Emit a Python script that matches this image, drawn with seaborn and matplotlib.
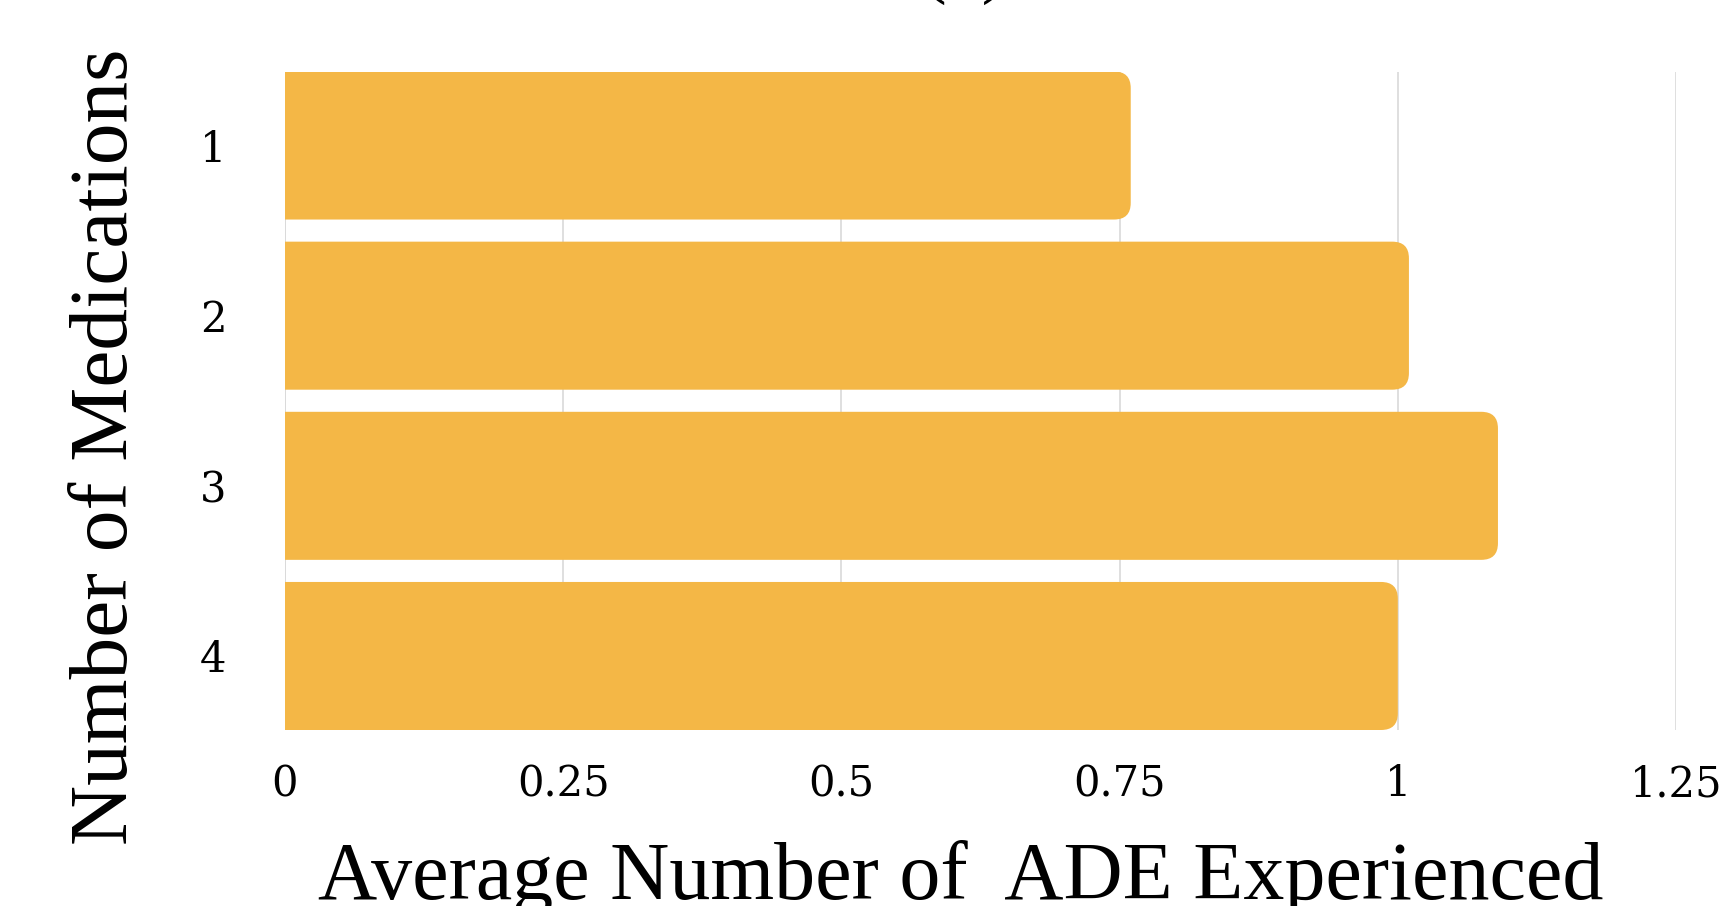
import matplotlib
matplotlib.use("Agg")
import matplotlib.pyplot as plt
from matplotlib.patches import FancyBboxPatch
import seaborn as sns
import pandas as pd

# data
medications = ["1", "2", "3", "4"]
avg_ade = [0.76, 1.01, 1.09, 1.00]
x_ticks = [0, 0.25, 0.5, 0.75, 1, 1.25]
x_tick_labels = ["0", "0.25", "0.5", "0.75", "1", "1.25"]

df = pd.DataFrame({"Number of Medications": medications, "Average ADE": avg_ade})

sns.set_theme(style="white")
plt.rcParams["font.family"] = ["Liberation Serif", "DejaVu Serif"]
plt.rcParams["text.color"] = "black"
plt.rcParams["axes.labelcolor"] = "black"
plt.rcParams["xtick.color"] = "black"
plt.rcParams["ytick.color"] = "black"

bar_color = "#F4B746"
fig = plt.figure(figsize=(17.23, 9.06), dpi=100)
ax = fig.add_axes([285 / 1723, 1 - 730 / 906, (1676 - 285) / 1723, (730 - 71.5) / 906])

bw = 0.87
sns.barplot(data=df, x="Average ADE", y="Number of Medications", orient="h",
            color=bar_color, width=bw, saturation=1, ax=ax, zorder=2)

# swap plain rectangles for ones with rounded right ends
for p in list(ax.patches):
    x0, y0, w, h = p.get_x(), p.get_y(), p.get_width(), p.get_height()
    p.remove()
    rb = FancyBboxPatch((x0 - 0.05, y0), w + 0.05, h,
                        boxstyle="round,pad=0,rounding_size=0.015",
                        mutation_aspect=6.5, facecolor=bar_color,
                        edgecolor="none", zorder=2)
    ax.add_patch(rb)

ax.set_xlim(0, 1.25)
ax.set_ylim(3 + bw / 2, -bw / 2)
ax.set_xticks(x_ticks)
ax.set_xticklabels(x_tick_labels)
ax.grid(axis="x", color="#d9d9d9", linewidth=1.2, zorder=0)
ax.grid(axis="y", visible=False)
ax.axvline(0, color="#d9d9d9", linewidth=1.2, zorder=0)
ax.set_axisbelow(True)
for s in ax.spines.values():
    s.set_visible(False)

ax.tick_params(axis="x", length=0, pad=24)
ax.tick_params(axis="y", length=0, pad=42)
for lbl in ax.get_xticklabels() + ax.get_yticklabels():
    lbl.set_fontfamily("DejaVu Serif")
    lbl.set_fontsize(30)

ax.set_xlabel("Average Number of  ADE Experienced", fontsize=59)
ax.xaxis.label.set_va("baseline")
ax.xaxis.set_label_coords(0.486, -0.257)

ax.set_ylabel("Number of Medications", fontsize=60)
ax.yaxis.set_label_coords(-0.101, 0.43)

fig.text(964 / 1723, 1.012, "(a)", ha="center", va="baseline", fontsize=58)

fig.savefig("out.png", dpi=100)
